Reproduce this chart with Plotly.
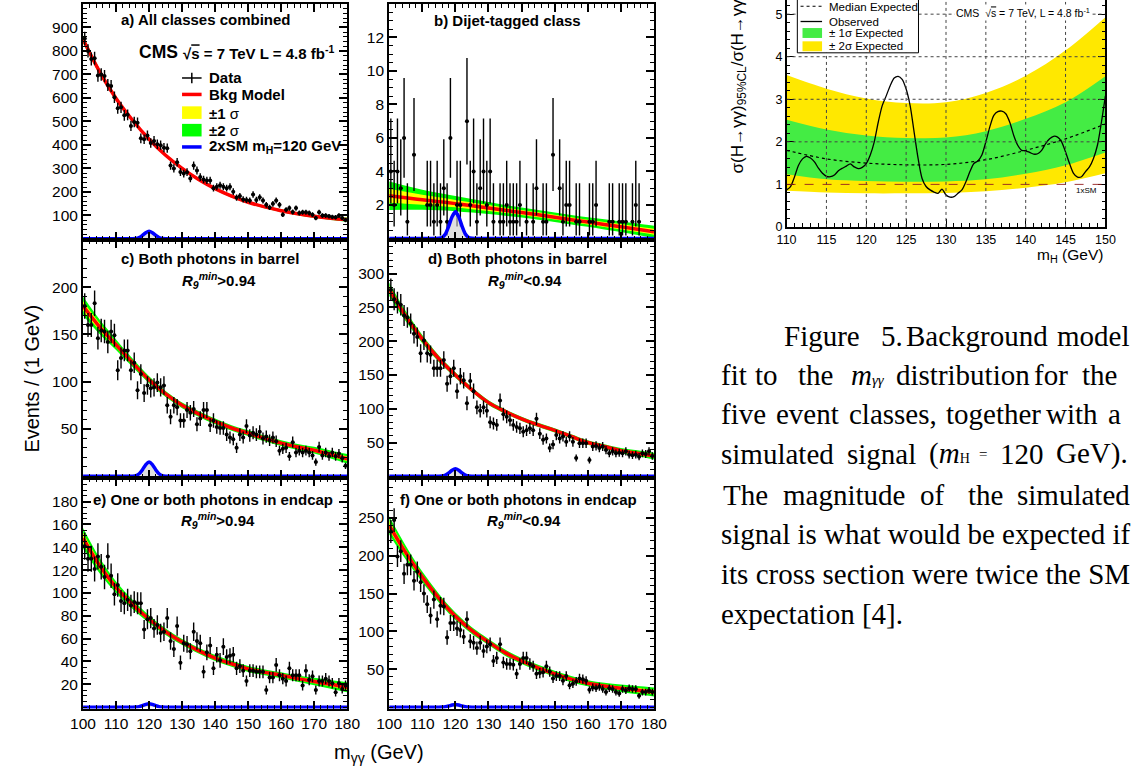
import numpy as np
import plotly.graph_objects as go

W, H = 1136, 775
SANS = "Liberation Sans, Arial, Helvetica, sans-serif"
SERIF = "Liberation Serif, Times New Roman, serif"


def px(x):
    return x / W


def py(y):
    return 1 - y / H


# ------------------------------------------------------------------ data
bin_centers = np.arange(100.5, 180.0, 1.0)          # 80 bins of 1 GeV
knots = [100, 105, 110, 115, 120, 125, 130, 135, 140, 145, 150, 155, 160, 165, 170, 175, 180]
sig_x = [100, 114, 115, 116, 117, 118, 119, 120, 121, 122, 123, 124, 125, 126, 180]

a_counts = [853, 800, 766, 769, 695, 700, 693, 655, 651, 603,
            556, 560, 526, 528, 481, 498, 494, 428, 424, 440,
            408, 417, 403, 399, 388, 386, 312, 300, 326, 285,
            278, 284, 257, 312, 291, 263, 253, 249, 249, 216,
            222, 228, 222, 216, 222, 201, 176, 182, 168, 166,
            163, 189, 166, 177, 163, 145, 134, 149, 163, 145,
            103, 124, 131, 114, 131, 110, 113, 113, 110, 103,
            89, 113, 99, 99, 96, 93, 92, 99, 89, 80]
b_counts = [4, 2, 4, 3, 6, 1, 0, 5, 0, 0,
            0, 2, 2, 1, 2, 1, 3, 1, 6, 0,
            2, 2, 0, 7, 2, 4, 1, 3, 4, 2,
            4, 1, 0, 1, 1, 2, 1, 1, 1, 2,
            0, 1, 0, 1, 3, 0, 1, 1, 0, 5,
            0, 3, 1, 2, 2, 0, 1, 1, 0, 0,
            1, 1, 2, 0, 0, 0, 1, 1, 0, 1,
            1, 1, 0, 1, 2, 1, 0, 0, 0, 0]
c_counts = [180, 160, 160, 183, 146, 154, 153, 142, 153, 149,
            112, 125, 133, 133, 112, 120, 91, 108, 88, 96,
            93, 94, 99, 94, 96, 75, 63, 75, 73, 59,
            59, 70, 67, 71, 55, 61, 70, 70, 54, 59,
            52, 51, 51, 44, 41, 39, 30, 44, 41, 53,
            43, 46, 44, 47, 40, 42, 38, 41, 37, 27,
            29, 30, 21, 36, 25, 27, 25, 27, 25, 22,
            15, 31, 22, 25, 21, 25, 21, 24, 19, 11]
d_counts = [276, 262, 257, 254, 238, 235, 226, 211, 206, 182,
            201, 182, 180, 160, 160, 160, 172, 137, 148, 160,
            126, 148, 142, 108, 141, 126, 102, 97, 102, 97,
            80, 78, 76, 112, 92, 88, 83, 76, 73, 71,
            66, 68, 71, 68, 85, 63, 54, 56, 42, 47,
            61, 56, 59, 51, 59, 51, 27, 49, 49, 49,
            24, 44, 45, 42, 44, 39, 34, 37, 34, 35,
            34, 37, 32, 31, 32, 29, 34, 33, 37, 30]
e_counts = [141, 130, 130, 121, 132, 123, 114, 132, 115, 99,
            107, 93, 91, 94, 89, 92, 91, 91, 68, 77,
            78, 69, 72, 65, 66, 78, 58, 51, 71, 39,
            56, 55, 49, 66, 58, 56, 31, 48, 54, 34,
            46, 41, 53, 44, 45, 46, 34, 36, 32, 23,
            32, 32, 31, 31, 31, 15, 26, 26, 37, 28,
            25, 23, 34, 28, 28, 28, 19, 32, 24, 27,
            15, 23, 23, 25, 23, 21, 13, 21, 16, 19]
f_counts = [232, 247, 199, 206, 176, 188, 188, 167, 179, 165,
            150, 136, 121, 142, 116, 134, 133, 92, 111, 111,
            104, 102, 93, 116, 87, 85, 78, 85, 74, 80,
            83, 61, 65, 83, 59, 57, 57, 56, 44, 57,
            65, 65, 57, 54, 44, 45, 46, 54, 47, 38,
            41, 41, 35, 41, 29, 31, 34, 38, 37, 35,
            23, 26, 25, 27, 24, 20, 25, 24, 20, 18,
            24, 22, 25, 24, 24, 15, 20, 20, 22, 20]

# background model (at knots) and band half-widths
a_bkg = [850, 712, 598, 505, 424, 356, 300, 253, 214, 182, 156, 136, 120, 107, 96, 88, 82]
a_s1 = [8, 6, 4.5, 3.5, 3, 3, 2.8, 2.8, 2.8, 2.8, 2.8, 2.8, 2.8, 3, 3.3, 3.8, 4.5]
a_s2 = [16, 12, 9, 7, 6, 6, 5.6, 5.6, 5.6, 5.6, 5.6, 5.6, 5.6, 6, 6.6, 7.6, 9]
b_bkg = [2.55, 2.43, 2.31, 2.2, 2.08, 1.95, 1.82, 1.68, 1.55, 1.41, 1.27, 1.12, 0.98, 0.84, 0.7, 0.55, 0.4]
b_s1 = [0.42, 0.36, 0.3, 0.26, 0.22, 0.2, 0.18, 0.16, 0.15, 0.15, 0.14, 0.14, 0.14, 0.15, 0.16, 0.17, 0.18]
b_s2 = [0.85, 0.72, 0.6, 0.52, 0.45, 0.4, 0.36, 0.32, 0.3, 0.29, 0.28, 0.28, 0.28, 0.3, 0.32, 0.34, 0.36]
c_bkg = [180, 158, 139, 120, 102, 87, 75, 66, 58, 51, 45.5, 40, 35, 31, 27.5, 23, 18.5]
c_s1 = [5, 3.8, 2.8, 2.2, 1.8, 1.6, 1.5, 1.5, 1.5, 1.5, 1.5, 1.5, 1.5, 1.6, 1.8, 2.1, 2.5]
c_s2 = [10, 7.6, 5.6, 4.4, 3.6, 3.2, 3, 3, 3, 3, 3, 3, 3, 3.2, 3.6, 4.2, 5]
d_bkg = [277, 237, 203, 174, 150, 128, 109, 96, 85, 76, 68, 59, 50, 44, 38, 34, 30]
d_s1 = [5, 3.8, 3, 2.4, 2, 1.8, 1.7, 1.6, 1.6, 1.6, 1.6, 1.6, 1.6, 1.7, 1.9, 2.2, 2.5]
d_s2 = [10, 7.6, 6, 4.8, 4, 3.6, 3.4, 3.2, 3.2, 3.2, 3.2, 3.2, 3.2, 3.4, 3.8, 4.4, 5]
e_bkg = [148, 124, 105, 90, 77, 66, 57, 49.5, 43, 38, 33.5, 30.5, 28, 25, 22.5, 20, 17.5]
e_s1 = [4.5, 3.4, 2.5, 2, 1.6, 1.4, 1.3, 1.3, 1.3, 1.3, 1.3, 1.3, 1.3, 1.4, 1.6, 1.9, 2.2]
e_s2 = [9, 6.8, 5, 4, 3.2, 2.8, 2.6, 2.6, 2.6, 2.6, 2.6, 2.6, 2.6, 2.8, 3.2, 3.8, 4.4]
f_bkg = [240, 204, 172, 144, 120, 101, 86, 72, 61, 52, 44, 37, 31.5, 28, 25, 22.5, 20]
f_s1 = [6, 4.6, 3.5, 2.9, 2.5, 2.2, 2, 2, 2, 2, 2, 2, 2, 2.1, 2.4, 2.7, 3]
f_s2 = [12, 9.2, 7, 5.8, 5, 4.4, 4, 4, 4, 4, 4, 4, 4, 4.2, 4.8, 5.4, 6]

# simulated 2xSM signal (m_H = 120 GeV)
a_sig = [0, 0, 0.2, 1.3, 5.5, 15, 26, 32, 26, 15, 5.5, 1.3, 0.2, 0, 0]
b_sig = [0, 0, 0.01, 0.06, 0.27, 0.74, 1.3, 1.6, 1.3, 0.74, 0.27, 0.06, 0.01, 0, 0]
c_sig = [0, 0, 0.1, 0.6, 2.6, 6.9, 12.3, 15, 12.3, 6.9, 2.6, 0.6, 0.1, 0, 0]
d_sig = [0, 0, 0.1, 0.45, 1.9, 5, 9, 11, 9, 5, 1.9, 0.45, 0.1, 0, 0]
e_sig = [0, 0, 0, 0.1, 0.5, 1.4, 2.5, 3, 2.5, 1.4, 0.5, 0.1, 0, 0, 0]
f_sig = [0, 0, 0, 0.12, 0.6, 1.6, 2.9, 3.5, 2.9, 1.6, 0.6, 0.12, 0, 0, 0]

# Poisson (Garwood 68%) intervals for small counts in the dijet class
pois_lo = {1: 0.827, 2: 1.292, 3: 1.633, 4: 1.914, 5: 2.159, 6: 2.380, 7: 2.581}
pois_hi = {1: 2.299, 2: 2.637, 3: 2.918, 4: 3.162, 5: 3.382, 6: 3.583, 7: 3.770}

# tick labels
a_yticks = [100, 200, 300, 400, 500, 600, 700, 800, 900]
b_yticks = [2, 4, 6, 8, 10, 12]
c_yticks = [50, 100, 150, 200]
d_yticks = [50, 100, 150, 200, 250, 300]
e_yticks = [20, 40, 60, 80, 100, 120, 140, 160, 180]
f_yticks = [50, 100, 150, 200, 250]
mass_ticks = [100, 110, 120, 130, 140, 150, 160, 170, 180]

# limit plot
lim_knots = [110, 115, 120, 125, 130, 135, 140, 145, 150]
lim_median = [1.80, 1.60, 1.50, 1.46, 1.47, 1.58, 1.80, 2.07, 2.42]
lim_1s_up = [2.52, 2.29, 2.15, 2.09, 2.10, 2.25, 2.54, 2.93, 3.54]
lim_1s_dn = [1.24, 1.12, 1.08, 1.06, 1.07, 1.12, 1.25, 1.45, 1.75]
lim_2s_up = [3.57, 3.25, 3.02, 2.91, 2.93, 3.15, 3.55, 4.15, 4.93]
lim_2s_dn = [0.85, 0.81, 0.79, 0.79, 0.80, 0.84, 0.92, 1.05, 1.26]
obs_mass = np.arange(110, 150.01, 0.5)
obs_limit = [0.87, 0.95, 1.18, 1.45, 1.60, 1.66, 1.62, 1.53, 1.38, 1.26,
             1.19, 1.18, 1.22, 1.32, 1.38, 1.43, 1.48, 1.41, 1.37, 1.40,
             1.49, 1.69, 2.00, 2.46, 2.85, 3.08, 3.32, 3.50, 3.54, 3.47,
             3.24, 2.85, 2.23, 1.61, 1.14, 0.95, 0.87, 0.82, 0.79, 0.89,
             0.75, 0.70, 0.71, 0.79, 0.87, 1.06, 1.30, 1.49, 1.55, 1.69,
             2.00, 2.35, 2.62, 2.71, 2.72, 2.66, 2.46, 2.15, 1.92, 1.80,
             1.79, 1.75, 1.71, 1.72, 1.80, 1.96, 2.07, 2.13, 2.11, 2.00,
             1.76, 1.49, 1.26, 1.17, 1.18, 1.30, 1.41, 1.61, 1.92, 2.46,
             3.08]
lim_xticks = [110, 115, 120, 125, 130, 135, 140, 145, 150]
lim_yticks = [0, 1, 2, 3, 4, 5]

# ------------------------------------------------------------------ panels
panels = [
    dict(n=1, counts=a_counts, bkg=a_bkg, s1=a_s1, s2=a_s2, sig=a_sig,
         xd=(71.7, 342), yd=(4, 242), yr=(-4, 1000), yt=a_yticks, ym=20, xl=False, pois=False),
    dict(n=2, counts=b_counts, bkg=b_bkg, s1=b_s1, s2=b_s2, sig=b_sig,
         xd=(385, 656), yd=(4, 242), yr=(-0.08, 14), yt=b_yticks, ym=0.5, xl=False, pois=True),
    dict(n=3, counts=c_counts, bkg=c_bkg, s1=c_s1, s2=c_s2, sig=c_sig,
         xd=(71.7, 342), yd=(242, 482), yr=(-1.5, 250), yt=c_yticks, ym=10, xl=False, pois=False),
    dict(n=4, counts=d_counts, bkg=d_bkg, s1=d_s1, s2=d_s2, sig=d_sig,
         xd=(385, 656), yd=(242, 482), yr=(-2, 350), yt=d_yticks, ym=10, xl=False, pois=False),
    dict(n=5, counts=e_counts, bkg=e_bkg, s1=e_s1, s2=e_s2, sig=e_sig,
         xd=(71.7, 342), yd=(482, 715), yr=(-1.2, 201), yt=e_yticks, ym=5, xl=True, pois=False),
    dict(n=6, counts=f_counts, bkg=f_bkg, s1=f_s1, s2=f_s2, sig=f_sig,
         xd=(385, 656), yd=(482, 715), yr=(-1.8, 303), yt=f_yticks, ym=10, xl=True, pois=False),
]

fig = go.Figure()
layout = dict(width=W, height=H, margin=dict(l=0, r=0, t=0, b=0),
              paper_bgcolor="white", plot_bgcolor="white", showlegend=False,
              font=dict(family=SANS, color="black"))

GREEN = "#00ff00"
YELLOW = "#ffff00"


def axname(n):
    return "" if n == 1 else str(n)


for p in panels:
    n = p["n"]
    xa, ya = "x" + axname(n), "y" + axname(n)
    bkg = np.array(p["bkg"], float)
    s1 = np.array(p["s1"], float)
    s2 = np.array(p["s2"], float)
    common = dict(xaxis=xa, yaxis=ya, hoverinfo="skip")
    # 2 sigma band (green)
    fig.add_trace(go.Scatter(x=knots, y=bkg - s2, mode="lines", line=dict(width=0, shape="spline"), **common))
    fig.add_trace(go.Scatter(x=knots, y=bkg + s2, mode="lines", line=dict(width=0, shape="spline"),
                             fill="tonexty", fillcolor=GREEN, **common))
    # 1 sigma band (yellow)
    fig.add_trace(go.Scatter(x=knots, y=bkg - s1, mode="lines", line=dict(width=0, shape="spline"), **common))
    fig.add_trace(go.Scatter(x=knots, y=bkg + s1, mode="lines", line=dict(width=0, shape="spline"),
                             fill="tonexty", fillcolor=YELLOW, **common))
    # background model
    fig.add_trace(go.Scatter(x=knots, y=bkg, mode="lines", line=dict(color="#ff0000", width=3.5, shape="spline"),
                             **common))
    # data
    counts = np.array(p["counts"], float)
    mask = counts > 0
    if p["pois"]:
        up = [pois_hi[int(c)] for c in counts[mask]]
        dn = [pois_lo[int(c)] for c in counts[mask]]
    else:
        up = np.sqrt(counts[mask])
        dn = up
    fig.add_trace(go.Scatter(
        x=bin_centers[mask], y=counts[mask], mode="markers",
        marker=dict(symbol="circle", size=4, color="black"),
        error_y=dict(type="data", array=up, arrayminus=dn, symmetric=False, width=0, thickness=1.4, color="black"),
        error_x=dict(type="constant", value=0.5, width=0, thickness=1.4, color="black"),
        **common))
    # signal
    fig.add_trace(go.Scatter(x=sig_x, y=p["sig"], mode="lines", line=dict(width=0, shape="spline", smoothing=0.6),
                             fill="tozeroy", fillcolor="rgba(205,205,205,0.6)", **common))
    fig.add_trace(go.Scatter(x=sig_x, y=p["sig"], mode="lines",
                             line=dict(color="#0000ff", width=3.5, shape="spline", smoothing=0.6), **common))

    axis_common = dict(showline=True, linewidth=2, linecolor="black", mirror="allticks",
                       ticks="inside", ticklen=8, tickwidth=1.5, tickcolor="black",
                       showgrid=False, zeroline=False, layer="above traces",
                       tickfont=dict(family=SANS, size=15.5, color="black"))
    layout["xaxis" + axname(n)] = dict(
        domain=[px(p["xd"][0]), px(p["xd"][1])], range=[100, 180], anchor=ya,
        tickmode="array", tickvals=mass_ticks, ticktext=[str(v) for v in mass_ticks],
        showticklabels=p["xl"],
        minor=dict(tickmode="linear", tick0=100, dtick=2, ticks="inside", ticklen=4, tickwidth=1.2,
                   tickcolor="black", showgrid=False),
        **axis_common)
    layout["yaxis" + axname(n)] = dict(
        domain=[py(p["yd"][1]), py(p["yd"][0])], range=list(p["yr"]), anchor=xa,
        tickmode="array", tickvals=p["yt"], ticktext=[str(v) for v in p["yt"]],
        minor=dict(tickmode="linear", tick0=0, dtick=p["ym"], ticks="inside", ticklen=4, tickwidth=1.2,
                   tickcolor="black", showgrid=False),
        **axis_common)

# ------------------------------------------------------------------ limit plot
lc = dict(xaxis="x7", yaxis="y7", hoverinfo="skip")
fig.add_trace(go.Scatter(x=lim_knots, y=lim_2s_dn, mode="lines", line=dict(width=0, shape="spline"), **lc))
fig.add_trace(go.Scatter(x=lim_knots, y=lim_2s_up, mode="lines", line=dict(width=0, shape="spline"),
                         fill="tonexty", fillcolor="#ffe800", **lc))
fig.add_trace(go.Scatter(x=lim_knots, y=lim_1s_dn, mode="lines", line=dict(width=0, shape="spline"), **lc))
fig.add_trace(go.Scatter(x=lim_knots, y=lim_1s_up, mode="lines", line=dict(width=0, shape="spline"),
                         fill="tonexty", fillcolor="#44ec44", **lc))
fig.add_trace(go.Scatter(x=lim_knots, y=lim_median, mode="lines",
                         line=dict(color="black", width=1.2, dash="dot", shape="spline"), **lc))
fig.add_trace(go.Scatter(x=obs_mass, y=obs_limit, mode="lines",
                         line=dict(color="black", width=1.3, shape="spline", smoothing=0.8), **lc))

lim_tickfont = dict(family=SANS, size=12.5, color="black")
layout["xaxis7"] = dict(domain=[px(791.7), px(1118)], range=[110, 150], anchor="y7",
                        tickmode="array", tickvals=lim_xticks, ticktext=[str(v) for v in lim_xticks],
                        showline=True, linewidth=1.5, linecolor="black", mirror=False,
                        ticks="inside", ticklen=8, tickwidth=1.2, tickcolor="black",
                        minor=dict(tickmode="linear", tick0=110, dtick=1, ticks="inside", ticklen=4,
                                   tickwidth=1, tickcolor="black", showgrid=False),
                        showgrid=False, zeroline=False, layer="above traces", tickfont=lim_tickfont)
layout["yaxis7"] = dict(domain=[py(229), 1.0], range=[0, 5.333], anchor="x7",
                        tickmode="array", tickvals=lim_yticks, ticktext=[str(v) for v in lim_yticks],
                        showline=True, linewidth=1.5, linecolor="black", mirror="allticks",
                        ticks="inside", ticklen=8, tickwidth=1.2, tickcolor="black",
                        minor=dict(tickmode="linear", tick0=0, dtick=0.2, ticks="inside", ticklen=4,
                                   tickwidth=1, tickcolor="black", showgrid=False),
                        showgrid=False, zeroline=False, layer="above traces", tickfont=lim_tickfont)

shapes = []
# dotted grid of the limit plot (drawn above the bands, as in the original)
for v in lim_xticks[1:-1]:
    shapes.append(dict(type="line", xref="x7", yref="y7", x0=v, x1=v, y0=0, y1=5.333,
                       line=dict(color="#444444", width=1, dash="dot")))
for v in lim_yticks[2:]:
    shapes.append(dict(type="line", xref="x7", yref="y7", x0=110, x1=150, y0=v, y1=v,
                       line=dict(color="#444444", width=1, dash="dot")))
shapes.append(dict(type="line", xref="x7", yref="y7", x0=110, x1=150, y0=1, y1=1,
                   line=dict(color="rgba(150,30,30,0.9)", width=1, dash="dash")))

# legend box of the limit plot
shapes.append(dict(type="rect", xref="paper", yref="paper", x0=px(802.7), x1=px(926.7), y0=py(53.3), y1=py(-3),
                   line=dict(color="black", width=1), fillcolor="white"))
shapes.append(dict(type="line", xref="paper", yref="paper", x0=px(806), x1=px(828), y0=py(6.3), y1=py(6.3),
                   line=dict(color="black", width=1.2, dash="dot")))
shapes.append(dict(type="line", xref="paper", yref="paper", x0=px(806), x1=px(828), y0=py(21.7), y1=py(21.7),
                   line=dict(color="black", width=1.3)))
shapes.append(dict(type="rect", xref="paper", yref="paper", x0=px(808), x1=px(828), y0=py(38.3), y1=py(28.3),
                   line=dict(width=0), fillcolor="#44ec44"))
shapes.append(dict(type="rect", xref="paper", yref="paper", x0=px(808), x1=px(828), y0=py(51.7), y1=py(41.7),
                   line=dict(width=0), fillcolor="#ffe800"))

# legend of panel a
shapes.append(dict(type="line", xref="paper", yref="paper", x0=px(173), x1=px(193), y0=py(78.7), y1=py(78.7),
                   line=dict(color="black", width=1.5)))
shapes.append(dict(type="line", xref="paper", yref="paper", x0=px(183), x1=px(183), y0=py(73.5), y1=py(84),
                   line=dict(color="black", width=1.5)))
shapes.append(dict(type="line", xref="paper", yref="paper", x0=px(173), x1=px(193), y0=py(95.3), y1=py(95.3),
                   line=dict(color="#ff0000", width=3.5)))
shapes.append(dict(type="rect", xref="paper", yref="paper", x0=px(173), x1=px(193), y0=py(120), y1=py(107.3),
                   line=dict(width=0), fillcolor=YELLOW))
shapes.append(dict(type="rect", xref="paper", yref="paper", x0=px(173), x1=px(193), y0=py(137.7), y1=py(125),
                   line=dict(width=0), fillcolor=GREEN))
shapes.append(dict(type="line", xref="paper", yref="paper", x0=px(173), x1=px(193), y0=py(148.3), y1=py(148.3),
                   line=dict(color="#0000ff", width=3.5)))
layout["shapes"] = shapes

annotations = []


def ann(text, x, y, size, xanchor="center", yanchor="middle", family=SANS, **kw):
    annotations.append(dict(text=text, x=px(x), y=py(y), xref="paper", yref="paper", showarrow=False,
                            xanchor=xanchor, yanchor=yanchor,
                            font=dict(family=family, size=size, color="black"), **kw))


r9 = "<b><i>R</i></b><sub><b><i>9</i></b></sub><sup><b><i>min</i></b></sup>"
ann("<b>a) All classes combined</b>", 198, 20, 15)
ann("<b>CMS</b>", 126.7, 52.7, 17.5, xanchor="left")
ann("<b>√<span style='text-decoration:overline'>s</span> = 7 TeV L = 4.8 fb<sup>-1</sup></b>", 171.5, 52.7, 15,
    xanchor="left")
ann("<b>Data</b>", 198.3, 78.7, 15, xanchor="left")
ann("<b>Bkg Model</b>", 198.3, 95.3, 15, xanchor="left")
ann("<b>±1</b> σ", 198.3, 114.2, 15, xanchor="left")
ann("<b>±2</b> σ", 198.3, 131.7, 15, xanchor="left")
ann("<b>2xSM m<sub>H</sub>=120 GeV</b>", 198.3, 148.3, 15, xanchor="left")
ann("<b>b) Dijet-tagged class</b>", 506, 21, 15)
ann("<b>c) Both photons in barrel</b>", 202, 261, 15)
ann(r9 + "<b>&gt;0.94</b>", 211, 283, 15)
ann("<b>d) Both photons in barrel</b>", 516, 261, 15)
ann(r9 + "<b>&lt;0.94</b>", 524, 283, 15)
ann("<b>e) One or both photons in endcap</b>", 205, 504, 15)
ann(r9 + "<b>&gt;0.94</b>", 210, 525, 15)
ann("<b>f) One or both photons in endcap</b>", 517, 504, 15)
ann(r9 + "<b>&lt;0.94</b>", 523, 525, 15)

ann("Events / (1 GeV)", 19, 382.5, 20, textangle=-90)
ann("m<sub>γγ</sub> (GeV)", 326, 760, 20, xanchor="left")

# limit plot texts
ann("Median Expected", 833.3, 6.8, 11.5, xanchor="left")
ann("Observed", 833.3, 21.7, 11.5, xanchor="left")
ann("± 1σ Expected", 833.3, 33.6, 11.5, xanchor="left")
ann("± 2σ Expected", 833.3, 46.7, 11.5, xanchor="left")
ann("CMS  √<span style='text-decoration:overline'>s</span> = 7 TeV, L = 4.8 fb<sup>-1</sup>", 963, 13, 10.5,
    xanchor="left", bgcolor="white")
ann("1xSM", 1098.7, 192.7, 8)
ann("σ(H→γγ)<sub>95%CL</sub>/σ(H→γγ)<sub>SM</sub>", 743, 177, 17, yanchor="bottom", textangle=-90)
ann("m<sub>H</sub> (GeV)", 1118, 258, 15.5, xanchor="right")

# caption text on the right (justified lines placed word by word)
caption_words = [
    (339.3, [("Figure", 787.3), ("5.", 886), ("Background", 911.5), ("model", 1066.7)]),
    (378.3, [("fit", 722.7), ("to", 757.3), ("the", 801.7),
             ("<i>m</i><span style='font-size:15px'><i>γγ</i></span>", 856),
             ("distribution", 901.7), ("for", 1043.3), ("the", 1091.7)]),
    (417.7, [("five", 722.7), ("event", 779.3), ("classes,", 853.3), ("together", 953.3), ("with", 1055),
             ("a", 1118.3)]),
    (457.7, [("simulated", 722.7), ("signal", 851.7),
             ("(<i>m</i><span style='font-size:14px'>H</span>", 935),
             ("<span style='font-size:15px'>=</span>", 986.7), ("120", 1008.3), ("GeV).", 1065)]),
    (499.3, [("The", 725), ("magnitude", 786), ("of", 926.7), ("the", 975), ("simulated", 1025)]),
    (539.3, [("signal is what would be expected if", 722.7)]),
    (579.3, [("its cross section were twice the SM", 722.7)]),
    (619.3, [("expectation [4].", 722.7)]),
]
for yline, words in caption_words:
    for w, xw in words:
        ann(w, xw, yline, 29, xanchor="left", family=SERIF)

layout["annotations"] = annotations
fig.update_layout(**layout)
fig.write_html("out.html")
